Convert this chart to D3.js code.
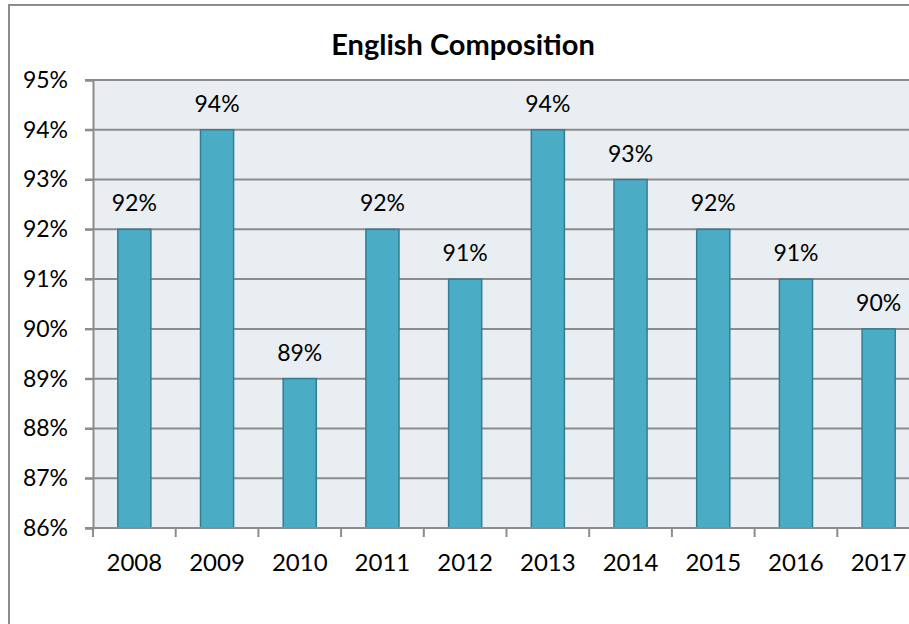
<!DOCTYPE html>
<html>
<head>
<meta charset="utf-8">
<script src="https://cdn.jsdelivr.net/npm/d3@7"></script>
<style>
  body { margin: 0; background: #fff; }
  text { font-family: Lato, "Open Sans", sans-serif; fill: #000; }
</style>
</head>
<body>
<div id="chart"></div>
<script>
// data
const years = ["2008", "2009", "2010", "2011", "2012", "2013", "2014", "2015", "2016", "2017"];
const rates = [92, 94, 89, 92, 91, 94, 93, 92, 91, 90];
const yTicks = [86, 87, 88, 89, 90, 91, 92, 93, 94, 95];

const width = 909, height = 624;
const margin = { left: 93, top: 80, right: -11, bottom: 96 };

const svg = d3.select("#chart").append("svg")
    .attr("width", width)
    .attr("height", height);

// outer chart border
svg.append("rect")
    .attr("x", 9).attr("y", 5)
    .attr("width", 940).attr("height", 660)
    .attr("fill", "#fff")
    .attr("stroke", "#8c8c8c")
    .attr("stroke-width", 2);

const x = d3.scaleBand()
    .domain(years)
    .range([margin.left, width - margin.right])
    .paddingInner(0.6)
    .paddingOuter(0.3);

const y = d3.scaleLinear()
    .domain([86, 95])
    .range([height - margin.bottom, margin.top]);

// plot background
svg.append("rect")
    .attr("x", margin.left)
    .attr("y", margin.top)
    .attr("width", width - margin.right - margin.left)
    .attr("height", y(86) - y(95))
    .attr("fill", "#e8eef2");

// gridlines
svg.append("g")
    .selectAll("line")
    .data(yTicks)
    .join("line")
    .attr("x1", margin.left - 8)
    .attr("x2", width - margin.right)
    .attr("y1", d => y(d))
    .attr("y2", d => y(d))
    .attr("stroke", "#8c8c8c")
    .attr("stroke-width", 2);

// bars
svg.append("g")
    .selectAll("rect")
    .data(years)
    .join("rect")
    .attr("x", d => x(d))
    .attr("y", (d, i) => y(rates[i]))
    .attr("width", x.bandwidth())
    .attr("height", (d, i) => y(86) - y(rates[i]))
    .attr("fill", "#4bacc6")
    .attr("stroke", "#357d92")
    .attr("stroke-width", 1.5);

// value labels
svg.append("g")
    .selectAll("text")
    .data(years)
    .join("text")
    .attr("x", d => x(d) + x.bandwidth() / 2)
    .attr("y", (d, i) => y(rates[i]) - 18)
    .attr("text-anchor", "middle")
    .style("font-size", "23px")
    .text((d, i) => rates[i] + "%");

// y axis
const yAxis = svg.append("g")
    .attr("transform", `translate(${margin.left},0)`)
    .call(d3.axisLeft(y).tickValues(yTicks).tickSize(8).tickFormat(d => d + "%"));
yAxis.select(".domain").attr("stroke", "#8c8c8c").attr("stroke-width", 2);
yAxis.selectAll(".tick line").attr("stroke", "#8c8c8c").attr("stroke-width", 2);
yAxis.selectAll(".tick text")
    .attr("x", -25)
    .style("font-size", "23px")
    .style("font-family", "Lato, sans-serif")
    .attr("fill", "#000");

// x axis with ticks between categories
const step = x.step();
const xTickPos = d3.range(years.length + 1).map(i => margin.left + i * step);
const xAxis = svg.append("g");
xAxis.append("line")
    .attr("x1", margin.left).attr("x2", width - margin.right)
    .attr("y1", y(86)).attr("y2", y(86))
    .attr("stroke", "#8c8c8c").attr("stroke-width", 2);
xAxis.selectAll("line.tick")
    .data(xTickPos)
    .join("line")
    .attr("class", "tick")
    .attr("x1", d => d).attr("x2", d => d)
    .attr("y1", y(86)).attr("y2", y(86) + 9)
    .attr("stroke", "#8c8c8c").attr("stroke-width", 2);
xAxis.selectAll("text")
    .data(years)
    .join("text")
    .attr("x", d => x(d) + x.bandwidth() / 2)
    .attr("y", y(86) + 43)
    .attr("text-anchor", "middle")
    .style("font-size", "24px")
    .text(d => d);

// title
svg.append("text")
    .attr("x", 463)
    .attr("y", 55)
    .attr("text-anchor", "middle")
    .style("font-size", "29px")
    .style("font-weight", "bold")
    .text("English Composition");
</script>
</body>
</html>
